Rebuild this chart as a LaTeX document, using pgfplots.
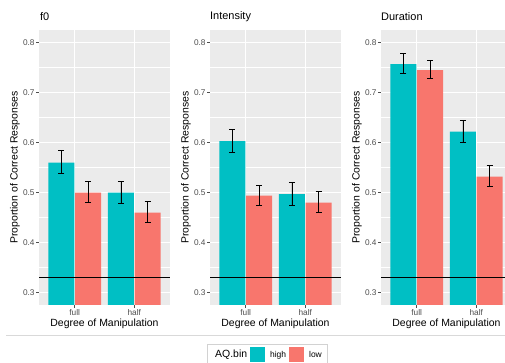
\documentclass[border=0pt]{standalone}
\usepackage{fontspec}
\setmainfont{Liberation Sans}
\usepackage{pgfplots}
\pgfplotsset{compat=1.18}
\usepackage{pgfplotstable}
\definecolor{tealA}{HTML}{00BFC4}
\definecolor{redA}{HTML}{F8766D}
\definecolor{panelbg}{HTML}{EBEBEB}
\definecolor{tickgrey}{HTML}{4D4D4D}

% f0
\pgfplotstableread{
x y ep em
1 0.560 0.024 0.021
2 0.500 0.023 0.021
}\fzhigh
\pgfplotstableread{
x y ep em
1 0.500 0.022 0.019
2 0.460 0.022 0.020
}\fzlow
% Intensity
\pgfplotstableread{
x y ep em
1 0.603 0.024 0.022
2 0.497 0.023 0.022
}\inhigh
\pgfplotstableread{
x y ep em
1 0.494 0.021 0.020
2 0.480 0.022 0.019
}\inlow
% Duration
\pgfplotstableread{
x y ep em
1 0.757 0.021 0.019
2 0.622 0.023 0.022
}\duhigh
\pgfplotstableread{
x y ep em
1 0.745 0.019 0.017
2 0.532 0.022 0.020
}\dulow

\tikzset{ptitle/.style={anchor=west, inner sep=0pt, font=\fontsize{11}{13}\selectfont}}

\pgfplotsset{
  panel/.style={
    anchor=south west, scale only axis, width=131bp, height=275bp,
    xmin=0.4, xmax=2.6, ymin=0.275, ymax=0.825,
    axis background/.style={fill=panelbg},
    axis line style={draw=none},
    xtick={1,2}, xticklabels={full,half},
    ytick={0.3,0.4,0.5,0.6,0.7,0.8},
    minor ytick={0.35,0.45,0.55,0.65,0.75},
    xtick pos=bottom, ytick pos=left,
    xmajorgrids, ymajorgrids, yminorgrids,
    major grid style={white, line width=1bp},
    minor grid style={white, line width=0.5bp},
    tick align=outside, major tick length=2.75bp, minor tick length=0pt,
    tick style={tickgrey, line width=0.5bp},
    ticklabel style={font=\fontsize{8.3}{9}\selectfont, text=tickgrey},
    yticklabel style={inner sep=1.5bp},
    xticklabel style={inner sep=2bp},
    /pgf/number format/assume math mode=true,
    yticklabel style={/pgf/number format/.cd, fixed, fixed zerofill, precision=1},
    ylabel={Proportion of Correct Responses},
    xlabel={Degree of Manipulation},
    label style={font=\fontsize{10.5}{12}\selectfont},
    ylabel style={at={(axis description cs:-0.183,0.5)}, anchor=center},
    xlabel style={at={(axis description cs:0.5,-0.069)}, anchor=center},
  },
  hibar/.style={ybar, bar width=0.435, bar shift=0, fill=tealA, draw=none,
    legend image code/.code={\fill[tealA] (0bp,-7.5bp) rectangle (15bp,7.5bp);},
    error bars/.cd, y dir=both, y explicit,
    error bar style={black, line width=0.5bp},
    error mark options={black, rotate=90, mark size=3bp, line width=0.5bp}},
  lobar/.style={ybar, bar width=0.435, bar shift=0, fill=redA, draw=none,
    legend image code/.code={\fill[redA] (0bp,-7.5bp) rectangle (15bp,7.5bp);},
    error bars/.cd, y dir=both, y explicit,
    error bar style={black, line width=0.5bp},
    error mark options={black, rotate=90, mark size=3bp, line width=0.5bp}},
  chance/.style={black, line width=0.6bp, no markers, forget plot},
}

\begin{document}
\begin{tikzpicture}
\useasboundingbox (0,0) rectangle (505bp,363bp);
\clip (0,0) rectangle (505bp,363bp);

\begin{axis}[panel, at={(39bp,58bp)}]
\addplot[hibar] table[x expr=\thisrow{x}-0.225, y=y, y error plus=ep, y error minus=em] {\fzhigh};
\addplot[lobar] table[x expr=\thisrow{x}+0.225, y=y, y error plus=ep, y error minus=em] {\fzlow};
\addplot[chance] coordinates {(0.4,0.33) (2.6,0.33)};
\end{axis}

\begin{axis}[panel, at={(210bp,58bp)},
  legend style={at={(axis description cs:-0.023,-0.142)}, anchor=north west,
    legend columns=-1, draw=gray!35, fill=white, inner sep=3bp,
    font=\fontsize{8.5}{9}\selectfont,
    /tikz/every odd column/.append style={column sep=3bp},
    /tikz/every even column/.append style={column sep=1bp}}]
\addlegendimage{empty legend}
\addlegendentry{\fontsize{10.5}{12}\selectfont AQ.bin}
\addplot[hibar] table[x expr=\thisrow{x}-0.225, y=y, y error plus=ep, y error minus=em] {\inhigh};
\addlegendentry{high}
\addplot[lobar] table[x expr=\thisrow{x}+0.225, y=y, y error plus=ep, y error minus=em] {\inlow};
\addlegendentry{low}
\addplot[chance] coordinates {(0.4,0.33) (2.6,0.33)};
\end{axis}

\begin{axis}[panel, at={(381bp,58bp)}]
\addplot[hibar] table[x expr=\thisrow{x}-0.225, y=y, y error plus=ep, y error minus=em] {\duhigh};
\addplot[lobar] table[x expr=\thisrow{x}+0.225, y=y, y error plus=ep, y error minus=em] {\dulow};
\addplot[chance] coordinates {(0.4,0.33) (2.6,0.33)};
\end{axis}

\node[ptitle] at (40bp,346bp) {f0};
\node[ptitle] at (210bp,346bp) {Intensity};
\node[ptitle] at (381bp,346bp) {Duration};
\draw[gray!30, line width=0.6bp] (6bp,28bp) -- (505bp,28bp);
\end{tikzpicture}
\end{document}
